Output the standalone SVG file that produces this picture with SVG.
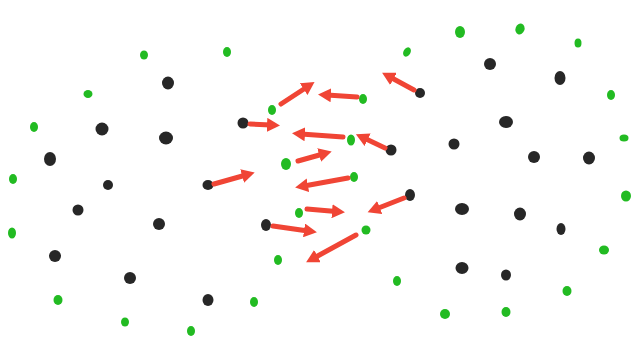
<svg xmlns="http://www.w3.org/2000/svg" width="639" height="342" viewBox="0 0 639 342">
<style>
.k{fill:#272727}
.g{fill:#22bb22}
.a{stroke:#f04535;stroke-width:5;stroke-linecap:round;fill:none;marker-end:url(#h)}
</style>
<defs>
<marker id="h" markerUnits="userSpaceOnUse" markerWidth="15" markerHeight="14" viewBox="0 0 15 14" refX="4" refY="7" orient="auto">
<path d="M0,0 L13,7 L0,14 z" fill="#f04535"/>
</marker>
</defs>
<rect width="639" height="342" fill="#ffffff"/>
<g id="left-cluster">
<ellipse class="g" cx="144" cy="55" rx="4" ry="4.5"/>
<ellipse class="g" cx="227" cy="52" rx="4" ry="5"/>
<ellipse class="g" cx="88" cy="94" rx="4.5" ry="4"/>
<ellipse class="g" cx="34" cy="127" rx="4" ry="5"/>
<ellipse class="g" cx="13" cy="179" rx="4" ry="5"/>
<ellipse class="g" cx="12" cy="233" rx="4" ry="5.5"/>
<ellipse class="g" cx="58" cy="300" rx="4.5" ry="5"/>
<ellipse class="g" cx="125" cy="322" rx="4" ry="4.5"/>
<ellipse class="g" cx="191" cy="331" rx="4" ry="5"/>
<ellipse class="g" cx="254" cy="302" rx="4" ry="5"/>
<ellipse class="k" cx="168" cy="83" rx="6" ry="6.5"/>
<ellipse class="k" cx="102" cy="129" rx="6.5" ry="6.5"/>
<ellipse class="k" cx="166" cy="138" rx="7" ry="6.5"/>
<ellipse class="k" cx="50" cy="159" rx="6" ry="7"/>
<ellipse class="k" cx="108" cy="185" rx="5" ry="5"/>
<ellipse class="k" cx="78" cy="210" rx="5.5" ry="5.5"/>
<ellipse class="k" cx="159" cy="224" rx="6" ry="6"/>
<ellipse class="k" cx="55" cy="256" rx="6" ry="6"/>
<ellipse class="k" cx="130" cy="278" rx="6" ry="6"/>
<ellipse class="k" cx="208" cy="300" rx="5.5" ry="6"/>
</g>
<g id="middle">
<ellipse class="g" cx="407" cy="52" rx="3.5" ry="5" transform="rotate(30 407 52)"/>
<ellipse class="g" cx="363" cy="99" rx="4" ry="5"/>
<ellipse class="g" cx="272" cy="110" rx="4" ry="5"/>
<ellipse class="g" cx="351" cy="140" rx="4" ry="5.5"/>
<ellipse class="g" cx="286" cy="164" rx="5" ry="6"/>
<ellipse class="g" cx="354" cy="177" rx="4" ry="5"/>
<ellipse class="g" cx="299" cy="213" rx="4" ry="5"/>
<ellipse class="g" cx="366" cy="230" rx="4.5" ry="4.5"/>
<ellipse class="g" cx="278" cy="260" rx="4" ry="5"/>
<ellipse class="g" cx="397" cy="281" rx="4" ry="5"/>
<ellipse class="k" cx="420" cy="93" rx="5" ry="5"/>
<ellipse class="k" cx="243" cy="123" rx="5.5" ry="5.5"/>
<ellipse class="k" cx="391" cy="150" rx="5.5" ry="5.5"/>
<ellipse class="k" cx="208" cy="185" rx="5.5" ry="5"/>
<ellipse class="k" cx="410" cy="195" rx="5" ry="6"/>
<ellipse class="k" cx="266" cy="225" rx="5" ry="6"/>
</g>
<g id="right-cluster">
<ellipse class="g" cx="460" cy="32" rx="5" ry="6"/>
<ellipse class="g" cx="520" cy="29" rx="4.5" ry="5.5" transform="rotate(20 520 29)"/>
<ellipse class="g" cx="578" cy="43" rx="3.5" ry="4.5"/>
<ellipse class="g" cx="611" cy="95" rx="4" ry="5"/>
<ellipse class="g" cx="624" cy="138" rx="4.5" ry="3.5"/>
<ellipse class="g" cx="626" cy="196" rx="5" ry="5.5"/>
<ellipse class="g" cx="604" cy="250" rx="5" ry="4.5"/>
<ellipse class="g" cx="567" cy="291" rx="4.5" ry="5"/>
<ellipse class="g" cx="506" cy="312" rx="4.5" ry="5"/>
<ellipse class="g" cx="445" cy="314" rx="5" ry="5"/>
<ellipse class="k" cx="490" cy="64" rx="6" ry="6"/>
<ellipse class="k" cx="560" cy="78" rx="5.5" ry="7"/>
<ellipse class="k" cx="506" cy="122" rx="7" ry="6"/>
<ellipse class="k" cx="454" cy="144" rx="5.5" ry="5.5"/>
<ellipse class="k" cx="534" cy="157" rx="6" ry="6"/>
<ellipse class="k" cx="589" cy="158" rx="6" ry="6.5"/>
<ellipse class="k" cx="462" cy="209" rx="7" ry="6"/>
<ellipse class="k" cx="520" cy="214" rx="6" ry="6.5"/>
<ellipse class="k" cx="561" cy="229" rx="4.5" ry="6"/>
<ellipse class="k" cx="462" cy="268" rx="6.5" ry="6"/>
<ellipse class="k" cx="506" cy="275" rx="5" ry="5.5"/>
</g>
<g id="connectors">
<line class="a" x1="414" y1="90" x2="390" y2="77"/>
<line class="a" x1="357" y1="97" x2="327" y2="95"/>
<line class="a" x1="281" y1="104" x2="307" y2="87"/>
<line class="a" x1="250" y1="124" x2="271" y2="125"/>
<line class="a" x1="385" y1="148" x2="364" y2="138"/>
<line class="a" x1="343" y1="137" x2="301" y2="134"/>
<line class="a" x1="298" y1="161" x2="323" y2="154"/>
<line class="a" x1="214" y1="184" x2="246" y2="175"/>
<line class="a" x1="348" y1="178" x2="304" y2="186"/>
<line class="a" x1="404" y1="198" x2="376" y2="209"/>
<line class="a" x1="307" y1="209" x2="336" y2="211.5"/>
<line class="a" x1="273" y1="226" x2="308" y2="231"/>
<line class="a" x1="356" y1="235" x2="314" y2="258"/>
</g>
</svg>
